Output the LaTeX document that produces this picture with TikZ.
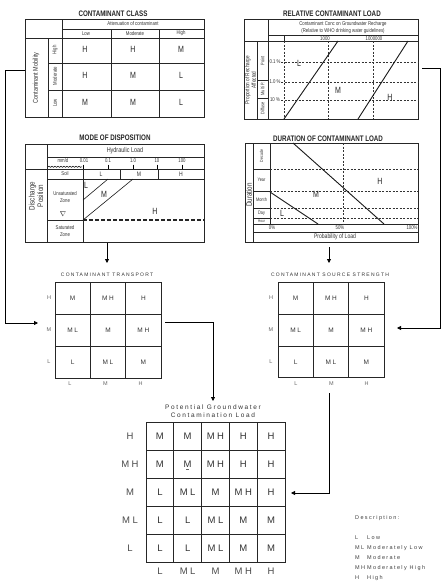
\documentclass[tikz,border=0pt]{standalone}
\usepackage{fontspec}
\setmainfont{Liberation Sans}
\newfontfamily\tech[FakeStretch=0.78]{Liberation Sans}
\newfontfamily\spc[LetterSpace=25]{Liberation Sans}
\usetikzlibrary{arrows.meta,decorations.pathmorphing}
\tikzset{
  ln/.style={line width=0.8pt, draw=black!85},
  dsh/.style={line width=0.5pt, draw=black!80, dash pattern=on 2pt off 1.5pt},
  hdsh/.style={line width=1.1pt, draw=black!85, dash pattern=on 4pt off 2pt},
  diag/.style={line width=0.9pt, draw=black!90},
  box/.style={draw=black!85, line width=0.8pt, inner sep=0pt, anchor=north west},
  ttl/.style={font=\tech\bfseries\fontsize{8}{9}\selectfont, text=black!85, inner sep=0pt},
  big/.style={font=\tech\fontsize{9}{9}\selectfont, text=black!85, inner sep=0pt},
  sm/.style={font=\tech\fontsize{5.5}{6}\selectfont, text=black!80, inner sep=0pt, align=center},
  rot/.style={font=\tech\fontsize{7}{7.5}\selectfont, text=black!80, inner sep=0pt, rotate=90, align=center},
  gttl/.style={font=\spc\fontsize{5}{6}\selectfont, text=black!80, inner sep=0pt},
  gl/.style={font=\spc\fontsize{6.5}{7}\selectfont, text=black!80, inner sep=0pt},
  glab/.style={font=\spc\fontsize{5.5}{6}\selectfont, text=black!60, inner sep=0pt},
  bl/.style={font=\spc\fontsize{9.5}{10}\selectfont, text=black!80, inner sep=0pt},
  desc/.style={font=\spc\fontsize{5.5}{6}\selectfont, text=black!75, inner sep=0pt, anchor=west},
  arr/.style={line width=0.8pt, draw=black, -{Triangle[length=4pt,width=4pt]}}
}
\begin{document}
\begin{tikzpicture}[x=1pt,y=-1pt]
\useasboundingbox[fill=white] (0,0) rectangle (447,582);

% ================= Panel 1: Contaminant class =================
\node[ttl] (p1t) at (113,14) {CONTAMINANT CLASS};
\node[box, minimum width=179pt, minimum height=98pt] (cc) at (25,19) {};
\draw[ln] (62,19) -- (62,117);
\draw[ln] (25,38) -- (204,38);
\draw[ln] (62,29) -- (204,29);
\draw[ln] (48,38) -- (48,117);
\draw[ln] (111,29) -- (111,117) (159,29) -- (159,117);
\draw[ln] (48,63) -- (204,63) (48,90) -- (204,90);
\node[sm] (p1a) at (133,24) {Attenuation of contaminant};
\node[sm] (p1l) at (86,33.5) {Low};
\node[sm] (p1m) at (135,33.5) {Moderate};
\node[sm] (p1h) at (181,33.5) {High};
\node[rot] (p1cm) at (36,78) {Contaminant Mobility};
\node[rot,font=\tech\fontsize{5.5}{6}\selectfont] (p1rh) at (55,50) {High};
\node[rot,font=\tech\fontsize{5.5}{6}\selectfont] (p1rm) at (55,76) {Moderate};
\node[rot,font=\tech\fontsize{5.5}{6}\selectfont] (p1rl) at (55,103) {Low};
\foreach \r/\row in {0/{H,H,M},1/{H,M,L},2/{M,M,L}}{
  \foreach \v [count=\c from 0] in \row {
    \node[big] (cc\r\c) at ({85+\c*48},{49+\r*26.5}) {\v};
  }
}

% ================= Panel 2: Relative contaminant load =================
\node[ttl] (p2t) at (332,14) {RELATIVE CONTAMINANT LOAD};
\node[box, minimum width=174pt, minimum height=100pt] (rcl) at (244,19) {};
\draw[ln] (268,19) -- (268,119);
\draw[ln] (268,35) -- (418,35);
\draw[ln] (244,41) -- (418,41);
\draw[ln] (257,41) -- (257,119);
\draw[ln] (257,80) -- (268,80) (257,98) -- (268,98);
\draw[ln] (284,35) -- (284,41);
\draw[dsh] (284,41) -- (284,119) (328,41) -- (328,119) (373,41) -- (373,119);
\draw[dsh] (281,62) -- (418,62) (281,82) -- (418,82) (281,100) -- (418,100);
\draw[diag] (284,119) -- (338,41);
\draw[diag] (358,119) -- (408,41);
\node[sm] (p2a) at (343,24) {Contaminant Conc on Groundwater Recharge};
\node[sm] (p2b) at (343,31) {(Relative to WHO drinking water guidelines)};
\node[sm] (p2c) at (325,38.3) {1000};
\node[sm] (p2d) at (374,38.3) {1000000};
\node[sm] (p2e) at (275,61.5) {0.1 \%};
\node[sm] (p2f) at (275,81.5) {1.0 \%};
\node[sm] (p2g) at (275,99.5) {10 \%};
\node[rot,font=\tech\fontsize{6}{6.5}\selectfont] (p2pr) at (250.5,80) {Proportion of Recharge\\Affected};
\node[rot,font=\tech\fontsize{5}{5.5}\selectfont] (p2pt) at (262.5,61) {Point};
\node[rot,font=\tech\fontsize{5}{5.5}\selectfont] (p2mp) at (262.5,89) {Multi P.};
\node[rot,font=\tech\fontsize{5}{5.5}\selectfont] (p2df) at (262.5,108.5) {Diffuse};
\node[big] (p2L) at (299,63) {L};
\node[big] (p2M) at (338,90) {M};
\node[big] (p2H) at (390,97) {H};

% ================= Panel 3: Mode of disposition =================
\node[ttl] (p3t) at (115,138) {MODE OF DISPOSITION};
\node[box, minimum width=179pt, minimum height=98pt] (md) at (25,144) {};
\draw[ln] (47,144) -- (47,242);
\draw[ln] (47,157) -- (204,157);
\draw[ln] (25,169) -- (204,169);
\draw[ln] (83,169) -- (83,242);
\draw[ln] (47,179) -- (204,179);
\draw[ln] (47,220) -- (83,220);
\draw[hdsh] (83,220) -- (204,220);
\draw[ln] (120,169) -- (120,179) (158,169) -- (158,179);
\foreach \x in {83,108,133,157,182} {\draw[line width=0.5pt] (\x,164.5) -- (\x,169);}
\draw[line width=0.5pt, decorate, decoration={snake, amplitude=0.6pt, segment length=3pt}] (48,166.8) -- (82,166.8);
\draw[diag, line width=0.6pt] (83,200) -- (108,179);
\draw[diag, line width=0.6pt] (83,220) -- (133,179);
\node[sm, font=\tech\fontsize{7}{7}\selectfont] (p3hl) at (125,151) {Hydraulic Load};
\node[sm] (p3mm) at (63,161) {mm/d};
\node[sm] (p3a) at (84,161) {0.01};
\node[sm] (p3b) at (108,161) {0.1};
\node[sm] (p3c) at (133,161) {1.0};
\node[sm] (p3d) at (157,161) {10};
\node[sm] (p3e) at (182,161) {100};
\node[sm] (p3soil) at (65,174) {Soil};
\node[sm, font=\tech\fontsize{6.5}{7}\selectfont] (p3sl) at (101,174) {L};
\node[sm, font=\tech\fontsize{6.5}{7}\selectfont] (p3sm) at (139,174) {M};
\node[sm, font=\tech\fontsize{6.5}{7}\selectfont] (p3sh) at (181,174) {H};
\node[sm] (p3uz) at (65,197) {Unsaturated\\[1pt]Zone};
\node[sm, font=\fontsize{7}{7}\selectfont] (p3tri) at (63,214) {$\nabla$};
\node[sm] (p3sz) at (65,231.5) {Saturated\\[1pt]Zone};
\node[rot, font=\tech\fontsize{8}{8.5}\selectfont] (p3dp) at (36,196) {Discharge\\Position};
\node[big] (p3L) at (86,185) {L};
\node[big] (p3M) at (104,194) {M};
\node[big] (p3H) at (155,211) {H};

% ================= Panel 4: Duration of contaminant load =================
\node[ttl] (p4t) at (328,139) {DURATION OF CONTAMINANT LOAD};
\node[box, minimum width=173pt, minimum height=99pt] (dur) at (245,143) {};
\draw[ln] (253,143) -- (253,242);
\draw[ln] (270,143) -- (270,224);
\draw[ln] (253,224) -- (418,224);
\draw[ln] (253,232) -- (418,232);
\foreach \y in {169,191,208,218} {
  \draw[ln] (253,\y) -- (270,\y);
  \draw[dsh] (270,\y) -- (418,\y);
}
\draw[dsh] (343,143) -- (343,224);
\draw[diag] (293,143) -- (384,224);
\draw[diag] (270,192) -- (318,224);
\node[rot, font=\tech\fontsize{4.5}{5}\selectfont] (p4dec) at (261.5,156) {Decade};
\node[sm, font=\tech\fontsize{5}{5}\selectfont] (p4yr) at (261.5,180) {Year};
\node[sm, font=\tech\fontsize{5}{5}\selectfont] (p4mo) at (261.5,199.5) {Month};
\node[sm, font=\tech\fontsize{5}{5}\selectfont] (p4dy) at (261.5,213) {Day};
\node[sm, font=\tech\fontsize{4}{4}\selectfont] (p4hr) at (261.5,221) {Hour};
\node[sm] (p4p0) at (272,228) {0\%};
\node[sm] (p4p5) at (340,228) {50\%};
\node[sm] (p4p1) at (412,228) {100\%};
\node[sm, font=\tech\fontsize{6.5}{7}\selectfont] (p4pl) at (335,237) {Probability of Load};
\node[rot, font=\tech\fontsize{8}{8.5}\selectfont] (p4du) at (249,195) {Duration};
\node[big] (p4M) at (316,194) {M};
\node[big] (p4H) at (380,181) {H};
\node[big] (p4L) at (282,213) {L};

% ================= Contaminant transport grid =================
\node[gttl] (ctt) at (107,275) {CONTAMINANT TRANSPORT};
\node[box, minimum width=106pt, minimum height=96pt] (ct) at (55,282) {};
\draw[ln] (90.3,282) -- (90.3,378) (125.7,282) -- (125.7,378);
\draw[ln] (55,314) -- (161,314) (55,346) -- (161,346);
\foreach \r/\row in {0/{M,MH,H},1/{ML,M,MH},2/{L,ML,M}}{
  \foreach \v [count=\c from 0] in \row {
    \node[gl] (ct\r\c) at ({72.7+\c*35.33},{298+\r*32}) {\v};
  }
}
\foreach \v [count=\i from 0] in {H,M,L} {\node[glab] (ctr\i) at (49,{298+\i*32}) {\v};}
\foreach \v [count=\i from 0] in {L,M,H} {\node[glab] (ctc\i) at ({70+\i*35.33},384) {\v};}

% ================= Contaminant source strength grid =================
\node[gttl] (cst) at (330,275) {CONTAMINANT SOURCE STRENGTH};
\node[box, minimum width=106pt, minimum height=95pt] (cs) at (278,282) {};
\draw[ln] (313.3,282) -- (313.3,377) (348.7,282) -- (348.7,377);
\draw[ln] (278,314) -- (384,314) (278,346) -- (384,346);
\foreach \r/\row in {0/{M,MH,H},1/{ML,M,MH},2/{L,ML,M}}{
  \foreach \v [count=\c from 0] in \row {
    \node[gl] (cs\r\c) at ({295.7+\c*35.33},{298+\r*32}) {\v};
  }
}
\foreach \v [count=\i from 0] in {H,M,L} {\node[glab] (csr\i) at (271,{298+\i*32}) {\v};}
\foreach \v [count=\i from 0] in {L,M,H} {\node[glab] (csc\i) at ({296+\i*35.33},384) {\v};}

% ================= Potential groundwater contamination load =================
\node[gttl, font=\spc\fontsize{6.5}{7}\selectfont] (pgt1) at (213,407) {Potential Groundwater};
\node[gttl, font=\spc\fontsize{6.5}{7}\selectfont] (pgt2) at (213,415) {Contamination Load};
\node[box, minimum width=139pt, minimum height=140pt] (pg) at (146,422) {};
\foreach \i in {1,2,3,4} {
  \draw[ln] ({146+\i*27.8},422) -- ({146+\i*27.8},562);
  \draw[ln] (146,{422+\i*28}) -- (285,{422+\i*28});
}
\foreach \r/\row in {0/{M,M,MH,H,H},1/{M,M,MH,H,H},2/{L,ML,M,MH,H},3/{L,L,ML,M,M},4/{L,L,ML,M,M}}{
  \foreach \v [count=\c from 0] in \row {
    \node[bl] (pg\r\c) at ({159.9+\c*27.8},{436+\r*28}) {\v};
  }
}
\draw[line width=0.5pt, draw=black!60] ([xshift=-1.5pt,yshift=-2pt]pg11.south) -- ([xshift=1.5pt,yshift=-2pt]pg11.south);
\foreach \v [count=\i from 0] in {H,MH,M,ML,L} {\node[bl, text=black!70] (pgr\i) at (130,{436+\i*28}) {\v};}
\foreach \v [count=\i from 0] in {L,ML,M,MH,H} {\node[bl, text=black!70] (pgc\i) at ({159.9+\i*27.8},571) {\v};}

% ================= Description =================
\node[desc] (d0) at (355,518) {Description:};
\foreach \a/\b [count=\i from 0] in {L/Low,ML/Moderately Low,M/Moderate,MH/Moderately High,H/High} {
  \node[desc] (da\i) at (355,{538+\i*10}) {\a};
  \node[desc] (db\i) at (367,{538+\i*10}) {\b};
}

% ================= Connectors =================
\coordinate (ccOut) at (cc.west |- 0,70);
\coordinate (ctIn) at (38,323);
\draw[arr] (ccOut) -- (5,70) |- (ctIn);

\coordinate (rclOut) at (422,68);
\coordinate (csIn) at (397,328);
\draw[arr] (rclOut) -- (440,68) |- (csIn);

\coordinate (mdOut) at (107,243);
\coordinate (ctTop) at (107,263);
\draw[arr] (mdOut) -- (ctTop);

\coordinate (durOut) at (329,247);
\coordinate (csTop) at (329,263);
\draw[arr] (durOut) -- (csTop);

\coordinate (ctOut) at (165,322);
\coordinate (pgTop) at (213,401);
\draw[arr] (ctOut) -| (pgTop);

\coordinate (csOut) at (329,393);
\coordinate (pgIn) at (291,493);
\draw[arr] (csOut) |- (pgIn);
\end{tikzpicture}
\end{document}
